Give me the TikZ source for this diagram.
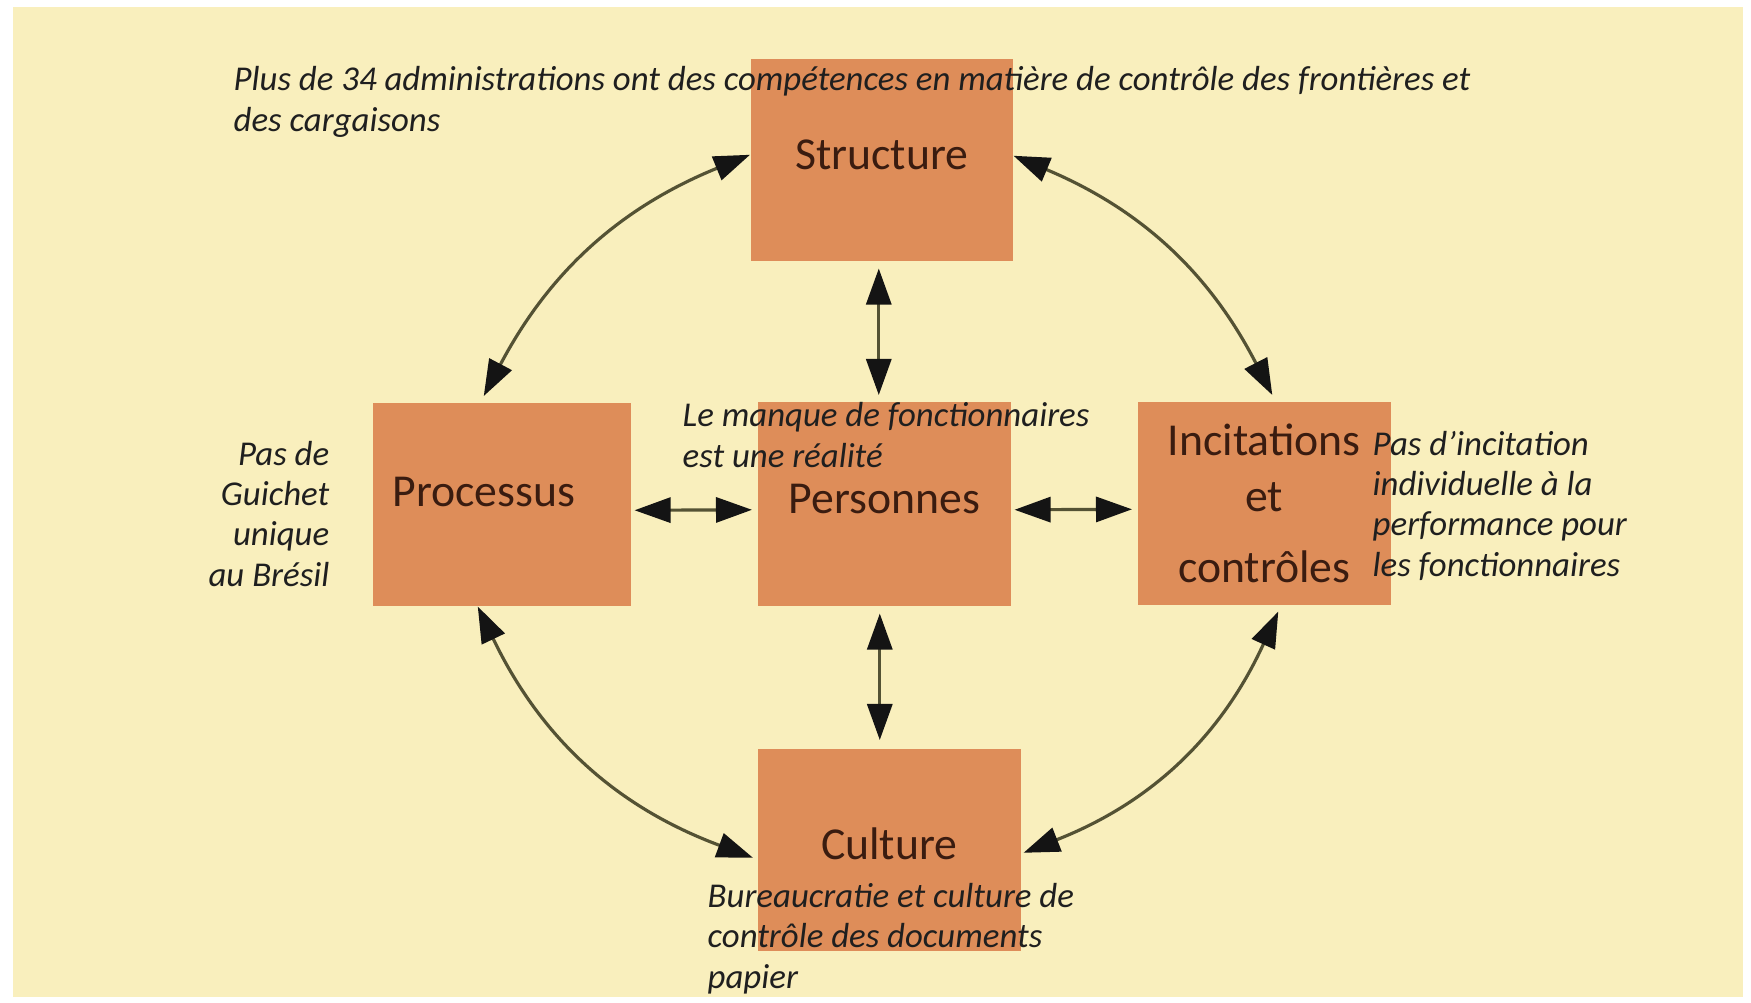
\documentclass[tikz,border=0pt]{standalone}
\usepackage{fontspec}
\setmainfont{Carlito}
\usetikzlibrary{arrows.meta}
\definecolor{fond}{RGB}{249,239,189}
\definecolor{boite}{RGB}{222,141,89}
\definecolor{brun}{RGB}{58,28,16}
\definecolor{trait}{RGB}{84,82,52}
\tikzset{
	bloc/.style={fill=boite, inner sep=0pt, text=brun, anchor=north west, align=center,
		font=\fontsize{13}{15.4}\selectfont},
	mot/.style={bloc, text height=0.35cm, text depth=0.16cm},
	note/.style={inner sep=0pt, text=black!88, font=\fontsize{9.9}{11.4}\selectfont\itshape},
	pointe/.tip={Triangle[length=0.36cm, width=0.25cm, color=black!92]},
	lien/.style={draw=trait, line width=0.9pt, pointe-pointe}
}
\begin{document}
	\begin{tikzpicture}[x=0.01cm, y=-0.01cm]
		\useasboundingbox (0,0) rectangle (1751,1002);
		\fill[white] (0,0) rectangle (1751,1002);
		\fill[fond] (13,7) rectangle (1743,997);
		\node[mot, minimum width=2.62cm, minimum height=2.02cm] (struct) at (750,58) {Structure};
		\node[mot, text depth=0.3cm, minimum width=2.58cm, minimum height=2.03cm] (proc) at (372,402)
			{\hspace*{-0.36cm}Processus};
		\node[mot, minimum width=2.53cm, minimum height=2.04cm] (pers) at (757,401) {Personnes};
		\node[bloc, minimum width=2.53cm, minimum height=2.03cm] (inc) at (1137,401)
			{Incitations\\[0.6pt] et\\[4.7pt] contrôles};
		\node[mot, minimum width=2.63cm, minimum height=2.02cm] (cult) at (757,748) {Culture};
		\node[note, anchor=base west, align=left] (haut) at (233,131)
			{Plus de 34 administrations ont des compétences en matière de contrôle des frontières et\\des cargaisons};
		\node[note, anchor=base west, align=left] (manque) at (682,467)
			{Le manque de fonctionnaires\\est une réalité};
		\node[note, anchor=base east, align=right] (guichet) at (330,586)
			{Pas de\\Guichet\\unique\\au Brésil};
		\node[note, anchor=base west, align=left] (incit) at (1372,576)
			{Pas d’incitation\\individuelle à la\\performance pour\\les fonctionnaires};
		\node[note, anchor=base west, align=left] (bureau) at (707,988)
			{Bureaucratie et culture de\\contrôle des documents\\papier};
		\draw[lien] ([yshift=0.05cm]struct.west) to[bend right=20] ([xshift=-0.18cm,yshift=0.06cm]proc.north);
		\draw[lien] ([yshift=0.04cm]struct.east) to[bend left=20] ([xshift=0.08cm,yshift=0.06cm]inc.north);
		\draw[lien] ([xshift=-0.24cm]proc.south) to[bend right=22] ([xshift=-0.04cm,yshift=-0.08cm]cult.west);
		\draw[lien] ([xshift=0.14cm,yshift=-0.06cm]inc.south) to[bend left=22] ([xshift=0.02cm,yshift=-0.03cm]cult.east);
		\draw[lien, shorten <=0.07cm, shorten >=0.06cm] ([xshift=-0.055cm]pers.north |- struct.south) -- ([xshift=-0.055cm]pers.north);
		\draw[lien, shorten <=0.07cm, shorten >=0.08cm] ([xshift=-0.045cm]pers.south) -- ([xshift=-0.045cm]pers.south |- cult.north);
		\foreach \de/\vers in {proc.east/pers.west, pers.east/inc.west}
			\draw[lien, shorten <=0.03cm, shorten >=0.05cm] ([yshift=-0.06cm]\de) -- ([yshift=-0.06cm]\vers);
	\end{tikzpicture}
\end{document}
